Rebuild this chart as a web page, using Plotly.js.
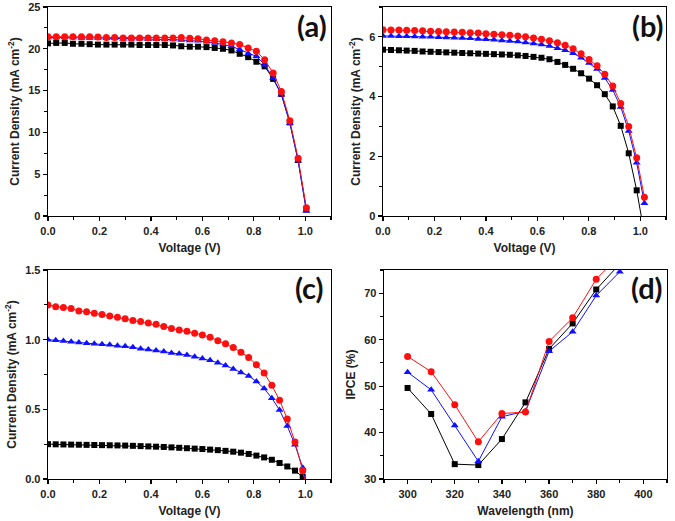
<!DOCTYPE html>
<html>
<head>
<meta charset="utf-8">
<script src="https://cdn.plot.ly/plotly-3.0.1.min.js"></script>
<style>html,body{margin:0;padding:0;background:#fff;}#chart{width:675px;height:521px;}</style>
</head>
<body>
<div id="chart"></div>
<script>
// Panel (a) J-V
const voltageA = [0, 0.032, 0.065, 0.097, 0.13, 0.162, 0.194, 0.227, 0.259, 0.292, 0.324, 0.356, 0.389, 0.421, 0.454, 0.486, 0.518, 0.551, 0.583, 0.616, 0.648, 0.68, 0.713, 0.745, 0.778, 0.81, 0.842, 0.875, 0.907, 0.94, 0.972, 1.004];
const blackA = [20.65, 20.7, 20.7, 20.6, 20.6, 20.55, 20.5, 20.5, 20.5, 20.5, 20.5, 20.45, 20.45, 20.45, 20.45, 20.4, 20.3, 20.25, 20.25, 20.2, 20.1, 20.0, 19.8, 19.4, 19.0, 18.45, 17.9, 16.4, 14.6, 11.2, 6.7, 0.8];
const blueA = [21.35, 21.35, 21.35, 21.35, 21.3, 21.3, 21.3, 21.25, 21.25, 21.2, 21.2, 21.2, 21.15, 21.15, 21.1, 21.1, 21.05, 21.0, 20.95, 20.85, 20.7, 20.5, 20.3, 19.9, 19.45, 19.1, 18.1, 16.5, 14.5, 11.1, 6.6, 0.6];
const redA = [21.45, 21.45, 21.45, 21.45, 21.45, 21.45, 21.4, 21.35, 21.35, 21.3, 21.3, 21.3, 21.3, 21.3, 21.3, 21.3, 21.35, 21.25, 21.2, 21.05, 20.95, 20.85, 20.7, 20.5, 20.1, 19.7, 18.7, 17.1, 14.9, 11.4, 6.9, 1.0];

// Panel (b) J-V
const voltageB = [0, 0.031, 0.062, 0.092, 0.123, 0.154, 0.185, 0.216, 0.246, 0.277, 0.308, 0.339, 0.37, 0.4, 0.431, 0.462, 0.493, 0.524, 0.554, 0.585, 0.616, 0.647, 0.678, 0.708, 0.739, 0.77, 0.801, 0.832, 0.862, 0.893, 0.924, 0.955, 0.986, 1.016];
const blackB = [5.57, 5.56, 5.55, 5.54, 5.53, 5.51, 5.5, 5.49, 5.48, 5.47, 5.46, 5.45, 5.44, 5.43, 5.42, 5.41, 5.4, 5.38, 5.36, 5.33, 5.3, 5.25, 5.16, 5.06, 4.93, 4.78, 4.6, 4.38, 4.08, 3.67, 3.02, 2.1, 0.86, -0.6];
const blueB = [6.03, 6.03, 6.02, 6.02, 6.01, 6.0, 6.0, 5.99, 5.98, 5.97, 5.96, 5.95, 5.93, 5.92, 5.9, 5.88, 5.86, 5.84, 5.81, 5.78, 5.74, 5.69, 5.62, 5.55, 5.45, 5.3, 5.12, 4.92, 4.62, 4.22, 3.65, 2.85, 1.78, 0.43];
const redB = [6.24, 6.23, 6.23, 6.22, 6.21, 6.2, 6.19, 6.18, 6.17, 6.16, 6.15, 6.14, 6.13, 6.1, 6.09, 6.07, 6.05, 6.03, 6.0, 5.96, 5.92, 5.87, 5.8, 5.72, 5.6, 5.43, 5.24, 5.03, 4.75, 4.35, 3.77, 3.0, 1.95, 0.63];

// Panel (c) J-V
const voltageC = [0, 0.03, 0.06, 0.09, 0.12, 0.15, 0.18, 0.21, 0.24, 0.27, 0.3, 0.33, 0.36, 0.39, 0.42, 0.45, 0.48, 0.51, 0.54, 0.57, 0.6, 0.63, 0.66, 0.69, 0.72, 0.75, 0.78, 0.81, 0.84, 0.87, 0.9, 0.93, 0.96, 0.99, 1.02];
const blackC = [0.25, 0.249, 0.248, 0.247, 0.246, 0.245, 0.244, 0.243, 0.242, 0.241, 0.24, 0.238, 0.236, 0.234, 0.232, 0.23, 0.227, 0.224, 0.221, 0.218, 0.215, 0.211, 0.207, 0.202, 0.196, 0.189, 0.18, 0.168, 0.155, 0.138, 0.115, 0.09, 0.06, 0.015, -0.05];
const blueC = [1.0, 0.995, 0.99, 0.985, 0.98, 0.975, 0.97, 0.967, 0.963, 0.957, 0.952, 0.945, 0.935, 0.93, 0.923, 0.915, 0.905, 0.898, 0.89, 0.878, 0.865, 0.852, 0.835, 0.815, 0.79, 0.765, 0.74, 0.7, 0.65, 0.58, 0.495, 0.38, 0.245, 0.08, -0.2];
const redC = [1.249, 1.237, 1.23, 1.223, 1.206, 1.2, 1.19, 1.18, 1.17, 1.16, 1.15, 1.137, 1.13, 1.12, 1.11, 1.095, 1.08, 1.07, 1.06, 1.046, 1.034, 1.017, 0.993, 0.97, 0.943, 0.91, 0.872, 0.82, 0.76, 0.672, 0.566, 0.43, 0.265, 0.06, -0.2];

// Panel (d) IPCE
const wavelength = [300, 310, 320, 330, 340, 350, 360, 370, 380, 390];
const blackD = [49.6, 44.0, 33.2, 33.0, 38.6, 46.5, 58.0, 63.5, 70.8, 76.3];
const blueD = [53.0, 49.2, 41.5, 33.8, 43.4, 44.6, 57.5, 61.7, 69.5, 74.6];
const redD = [56.4, 53.1, 46.0, 38.0, 44.1, 44.4, 59.6, 64.7, 73.0, 78.2];

const panelLabels = ['(a)', '(b)', '(c)', '(d)'];

const BLACK = '#000000', BLUE = '#1010ff', RED = '#ff1010';
function tr(x, y, color, symbol, size, xa, ya) {
  return {x: x, y: y, xaxis: xa, yaxis: ya, type: 'scatter', mode: 'lines+markers',
    line: {color: color, width: 1}, marker: {color: color, symbol: symbol, size: size},
    showlegend: false, cliponaxis: true};
}
const data = [
  tr(voltageA, blackA, BLACK, 'square', 6, 'x', 'y'),
  tr(voltageA, blueA, BLUE, 'triangle-up', 7, 'x', 'y'),
  tr(voltageA, redA, RED, 'circle', 7, 'x', 'y'),
  tr(voltageB, blackB, BLACK, 'square', 6, 'x2', 'y2'),
  tr(voltageB, blueB, BLUE, 'triangle-up', 7, 'x2', 'y2'),
  tr(voltageB, redB, RED, 'circle', 7, 'x2', 'y2'),
  tr(voltageC, blackC, BLACK, 'square', 6, 'x3', 'y3'),
  tr(voltageC, blueC, BLUE, 'triangle-up', 7, 'x3', 'y3'),
  tr(voltageC, redC, RED, 'circle', 7, 'x3', 'y3'),
  tr(wavelength, blackD, BLACK, 'square', 6, 'x4', 'y4'),
  tr(wavelength, blueD, BLUE, 'triangle-up', 7, 'x4', 'y4'),
  tr(wavelength, redD, RED, 'circle', 7, 'x4', 'y4')
];

const FONT = 'Liberation Sans, Arial, sans-serif';
function ax(extra) {
  return Object.assign({
    showline: true, linecolor: '#000', linewidth: 1.3, mirror: true,
    ticks: 'outside', ticklen: 4, tickwidth: 1.2, tickcolor: '#000',
    showgrid: false, zeroline: false, automargin: false,
    tickfont: {family: FONT, size: 11, color: '#222', weight: 'bold'}
  }, extra);
}
function xt(t) { return {text: t, font: {family: FONT, size: 12, color: '#222', weight: 'bold'}, standoff: 8}; }
function yt(t) { return {text: t, font: {family: FONT, size: 12, color: '#222', weight: 'bold'}, standoff: 6}; }
const jTitle = 'Current Density (mA cm<sup>-2</sup>)';

const layout = {
  width: 675, height: 521,
  margin: {l: 0, r: 0, t: 0, b: 0},
  paper_bgcolor: '#fff', plot_bgcolor: '#fff',
  font: {family: FONT},
  xaxis: ax({domain: [0.0711, 0.4904], range: [0, 1.1], dtick: 0.2, tickformat: '.1f', minor: {dtick: 0.1, ticks: 'outside', ticklen: 2.5, tickcolor: '#000'}, title: xt('Voltage (V)'), anchor: 'y'}),
  yaxis: ax({domain: [0.5854, 0.9866], range: [0, 25], dtick: 5, minor: {dtick: 2.5, ticks: 'outside', ticklen: 2.5, tickcolor: '#000'}, title: yt(jTitle), anchor: 'x'}),
  xaxis2: ax({domain: [0.5674, 0.9867], range: [0, 1.1], dtick: 0.2, tickformat: '.1f', minor: {dtick: 0.1, ticks: 'outside', ticklen: 2.5, tickcolor: '#000'}, title: xt('Voltage (V)'), anchor: 'y2'}),
  yaxis2: ax({domain: [0.5854, 0.9866], range: [0, 7], dtick: 2, minor: {dtick: 1, ticks: 'outside', ticklen: 2.5, tickcolor: '#000'}, title: yt(jTitle), anchor: 'x2'}),
  xaxis3: ax({domain: [0.0711, 0.4904], range: [0, 1.1], dtick: 0.2, tickformat: '.1f', minor: {dtick: 0.1, ticks: 'outside', ticklen: 2.5, tickcolor: '#000'}, title: xt('Voltage (V)'), anchor: 'y3'}),
  yaxis3: ax({domain: [0.0806, 0.4818], range: [0, 1.5], dtick: 0.5, tickformat: '.1f', minor: {dtick: 0.25, ticks: 'outside', ticklen: 2.5, tickcolor: '#000'}, title: yt(jTitle), anchor: 'x3'}),
  xaxis4: ax({domain: [0.5689, 0.9881], range: [290, 410], dtick: 20, minor: {dtick: 10, ticks: 'outside', ticklen: 2.5, tickcolor: '#000'}, title: xt('Wavelength (nm)'), anchor: 'y4'}),
  yaxis4: ax({domain: [0.0806, 0.4818], range: [30, 75], dtick: 10, minor: {dtick: 5, ticks: 'outside', ticklen: 2.5, tickcolor: '#000'}, title: yt('IPCE (%)'), anchor: 'x4'}),
  annotations: [
    {text: panelLabels[0], x: 0.462, y: 0.952},
    {text: panelLabels[1], x: 0.960, y: 0.952},
    {text: panelLabels[2], x: 0.459, y: 0.449},
    {text: panelLabels[3], x: 0.9585, y: 0.449}
  ].map(a => Object.assign(a, {xref: 'paper', yref: 'paper', xanchor: 'center', yanchor: 'middle', showarrow: false,
    font: {family: 'Lato, Open Sans, sans-serif', size: 29, color: '#111', weight: 'bold'}}))
};

Plotly.newPlot('chart', data, layout, {staticPlot: true, displayModeBar: false});
</script>
</body>
</html>
